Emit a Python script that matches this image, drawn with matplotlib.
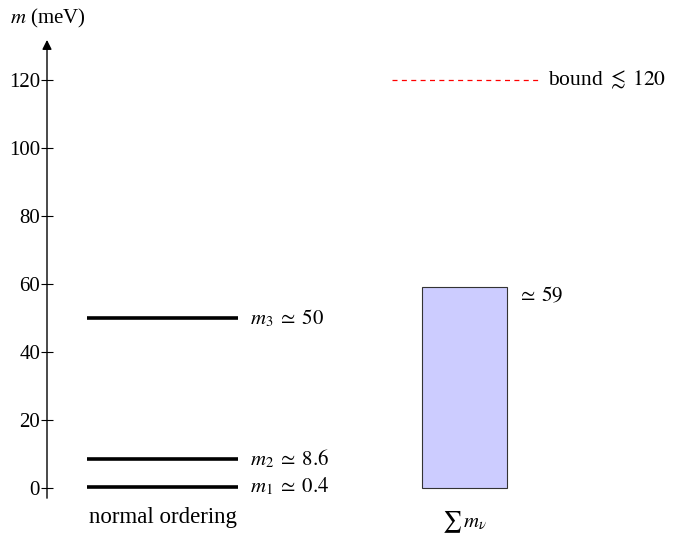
import matplotlib
matplotlib.use("Agg")
import matplotlib.pyplot as plt

plt.rcParams['font.family'] = ['Liberation Serif', 'DejaVu Serif']
plt.rcParams['mathtext.fontset'] = 'stix'

masses = [0.4, 8.6, 50]
mass_labels = [r'$m_1 \;\simeq\; 0.4$', r'$m_2 \;\simeq\; 8.6$', r'$m_3 \;\simeq\; 50$']
sum_mass = 59
sum_label = r'$\simeq\; 59$'
bound = 120
bound_label = r'bound $\lesssim\; 120$'
yticks = [0, 20, 40, 60, 80, 100, 120]

fig = plt.figure(figsize=(6.75, 5.38), dpi=100)
ax = fig.add_axes([47 / 675, 0.0740, 628 / 675, 0.8518])
ax.set_xlim(0, 628)
ax.set_ylim(-3, 131.8)

for s in ['top', 'right', 'bottom', 'left']:
    ax.spines[s].set_visible(False)
ax.annotate('', xy=(0, 131.8), xytext=(0, -3),
            arrowprops=dict(arrowstyle='-|>', color='black', lw=1.0,
                            mutation_scale=14, shrinkA=0, shrinkB=0))
ax.set_xticks([])
ax.set_yticks(yticks)
ax.set_yticklabels([str(t) for t in yticks], fontsize=15)
ax.tick_params(axis='y', direction='inout', length=8, width=0.8, pad=1)

# normal ordering levels
for m, lab in zip(masses, mass_labels):
    ax.plot([40, 191], [m, m], color='black', lw=2.6, solid_capstyle='butt')
    ax.text(203, m, lab, fontsize=15, va='center', ha='left')
ax.text(116, -8.8, 'normal ordering', fontsize=16.5, ha='center', va='center')

# sum of masses bar
ax.bar(417.5, sum_mass, width=85, bottom=0, color='#ccccff',
       edgecolor='#333333', lw=0.8)
ax.text(470, sum_mass - 2.5, sum_label, fontsize=15, ha='left', va='center')
ax.text(418, -9.8, r'$\sum\, m_\nu$', fontsize=15, ha='center', va='center')

# cosmological bound
ax.plot([345, 491], [bound, bound], color='red', lw=0.9, ls=(0, (4, 3.5)))
ax.text(501, bound, bound_label, fontsize=15.5, ha='left', va='center')

fig.text(10 / 675, 1 - 18 / 538, r'$m$ (meV)', fontsize=15, ha='left', va='center')

for a in ax.get_children():
    try:
        a.set_clip_on(False)
    except Exception:
        pass

fig.savefig('out.png', dpi=100)
